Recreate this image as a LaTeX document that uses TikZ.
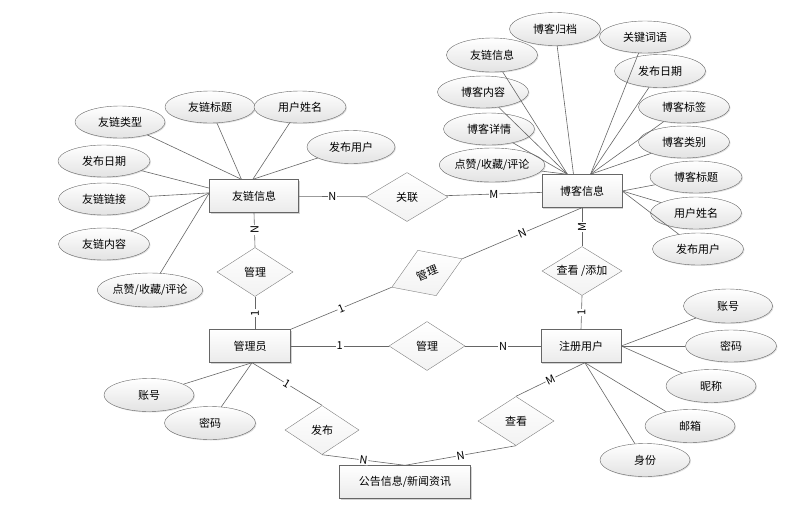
\documentclass[tikz,border=0pt]{standalone}
\usepackage{fontspec}
\setmainfont{Noto Sans CJK SC}
\usetikzlibrary{shapes.geometric,shadows,backgrounds}

\tikzset{
  entity/.style={rectangle, draw=black!60, minimum width=80pt, minimum height=33pt,
    top color=white, bottom color=gray!16,
    drop shadow={shadow xshift=1.2pt, shadow yshift=-1.2pt, opacity=0.35}},
  attr/.style={ellipse, draw=black!60, minimum width=90pt, minimum height=32pt, inner sep=0pt,
    top color=white, bottom color=gray!22,
    drop shadow={shadow xshift=1pt, shadow yshift=-1pt, opacity=0.25}},
  relbox/.style={diamond, draw=black!50, aspect=1.6, minimum width=76pt, minimum height=49pt,
    inner sep=1pt, top color=white, bottom color=gray!10},
  link/.style={draw=black!60, line width=0.6pt, on background layer},
  card/.style={fill=white, inner sep=0.8pt}
}

\begin{document}
\begin{tikzpicture}[x={(1pt,0)}, y={(0,-1pt)}, font=\fontsize{11}{13}\selectfont]

  \useasboundingbox (0,0) rectangle (812,520);

  %% entities
  \node[entity, minimum width=89pt] (yl) at (254,196) {友链信息};
  \node[entity] (bk) at (582,191) {博客信息};
  \node[entity, minimum width=81pt] (gly) at (250,346) {管理员};
  \node[entity] (zc) at (581,346) {注册用户};
  \node[entity, minimum width=131pt] (gg) at (405,482) {公告信息/新闻资讯};

  %% relations
  \node[relbox, minimum width=82pt] (gl) at (407,197) {关联};
  \node[relbox] (mng1) at (255,272) {管理};
  \node[relbox, rotate=22] (mng2) at (427,273) {管理};
  \node[relbox] (mng3) at (427,346) {管理};
  \node[relbox, minimum width=80pt] (ckadd) at (582,271) {查看 /添加};
  \node[relbox, minimum width=74pt] (fb) at (322,430) {发布};
  \node[relbox] (ck) at (516,421) {查看};

  %% relation links
  \draw[link] (yl) -- node[card]{N} (gl);
  \draw[link] (gl) -- node[card]{M} (bk);
  \draw[link] (yl.south) -- node[card, rotate=90]{N} (mng1.north);
  \draw[link] (mng1.south) -- node[card, rotate=90]{1} (mng1.south |- gly.north);
  \draw[link] (gly.north east) -- node[card, sloped]{1} (mng2.west);
  \draw[link] (mng2.east) -- node[card, sloped]{N} (bk.south);
  \draw[link] (bk.south) -- node[card, rotate=90]{M} (ckadd.north);
  \draw[link] (ckadd.south) -- node[card, rotate=90]{1} (zc.north);
  \draw[link] (gly) -- node[card]{1} (mng3);
  \draw[link] (mng3) -- node[card]{N} (zc);
  \draw[link] (gly.-83) -- node[card, sloped]{1} (fb.north);
  \draw[link] (fb.south) -- node[card, sloped]{N} (gg.north);
  \draw[link] (ck.south) -- node[card, sloped]{N} (gg.north);
  \draw[link] (ck.north) -- node[card, sloped]{M} (zc.-77);

  %% attributes of 友链信息
  \node[attr] (ylType) at (120,122) {友链类型};
  \node[attr] (ylTitle) at (210,107) {友链标题};
  \node[attr, minimum width=92pt] (ylUser) at (300,107) {用户姓名};
  \node[attr, minimum width=88pt, minimum height=33pt] (ylPub) at (351,147) {发布用户};
  \node[attr, minimum width=92pt] (ylDate) at (104,161) {发布日期};
  \node[attr, minimum width=91pt] (ylLink) at (104,199) {友链链接};
  \node[attr, minimum width=91pt] (ylText) at (104,244) {友链内容};
  \node[attr, minimum width=92pt, minimum height=34pt] (ylLike) at (150,290) {点赞/收藏/评论};
  \draw[link] (ylType) -- (yl.127);
  \draw[link] (ylTitle) -- (yl.127);
  \draw[link] (ylUser) -- (yl.94);
  \draw[link] (ylPub) -- (yl.94);
  \draw[link] (ylDate) -- (yl.170);
  \draw[link] (ylLink) -- (yl.176);
  \draw[link] (ylText) -- (yl.176);
  \draw[link] (ylLike) -- (yl.176);

  %% attributes of 博客信息
  \node[attr, minimum width=91pt, minimum height=33pt] (bkArch) at (555,29) {博客归档};
  \node[attr, minimum width=91pt] (bkKey) at (645,37) {关键词语};
  \node[attr, minimum width=91pt, minimum height=34pt] (bkFriend) at (492,55) {友链信息};
  \node[attr, minimum width=91pt, minimum height=33pt] (bkDate) at (660,71) {发布日期};
  \node[attr, minimum width=91pt] (bkText) at (483,92) {博客内容};
  \node[attr, minimum width=91pt] (bkTag) at (684,107) {博客标签};
  \node[attr, minimum width=91pt] (bkDetail) at (489,129) {博客详情};
  \node[attr, minimum width=91pt] (bkCat) at (684,142) {博客类别};
  \node[attr, minimum width=90pt, minimum height=34pt] (bkLike) at (492,165) {点赞/收藏/评论};
  \node[attr, minimum width=92pt] (bkTitle) at (696,177) {博客标题};
  \node[attr, minimum width=91pt] (bkUser) at (696,213) {用户姓名};
  \node[attr, minimum width=91pt] (bkPub) at (698,249) {发布用户};
  \draw[link] (bkArch) -- (bk.117);
  \draw[link] (bkFriend) -- (bk.131);
  \draw[link] (bkText) -- (bk.131);
  \draw[link] (bkDetail) -- (bk.131);
  \draw[link] (bkLike) -- (bk.131);
  \draw[link] (bkKey) -- (bk.63);
  \draw[link] (bkDate) -- (bk.63);
  \draw[link] (bkTag) -- (bk.63);
  \draw[link] (bkCat) -- (bk.63);
  \draw[link] (bkTitle) -- (bk.east);
  \draw[link] (bkUser) -- (bk.east);
  \draw[link] (bkPub) -- (bk.east);

  %% attributes of 注册用户
  \node[attr, minimum width=89pt, minimum height=34pt] (zcAcc) at (728,306) {账号};
  \node[attr, minimum width=91pt] (zcPwd) at (731,346) {密码};
  \node[attr, minimum width=90pt, minimum height=33pt] (zcNick) at (711,386) {昵称};
  \node[attr, minimum width=90pt, minimum height=33pt] (zcMail) at (690,426) {邮箱};
  \node[attr, minimum width=90pt, minimum height=33pt] (zcRole) at (645,460) {身份};
  \draw[link] (zcAcc) -- (zc.east);
  \draw[link] (zcPwd) -- (zc.east);
  \draw[link] (zcNick) -- (zc.east);
  \draw[link] (zcMail) -- (zc.-77);
  \draw[link] (zcRole) -- (zc.-77);

  %% attributes of 管理员
  \node[attr, minimum height=33pt] (glyAcc) at (149,395) {账号};
  \node[attr, minimum width=91pt, minimum height=33pt] (glyPwd) at (210,423) {密码};
  \draw[link] (glyAcc) -- (gly.-83);
  \draw[link] (glyPwd) -- (gly.-83);

\end{tikzpicture}
\end{document}
